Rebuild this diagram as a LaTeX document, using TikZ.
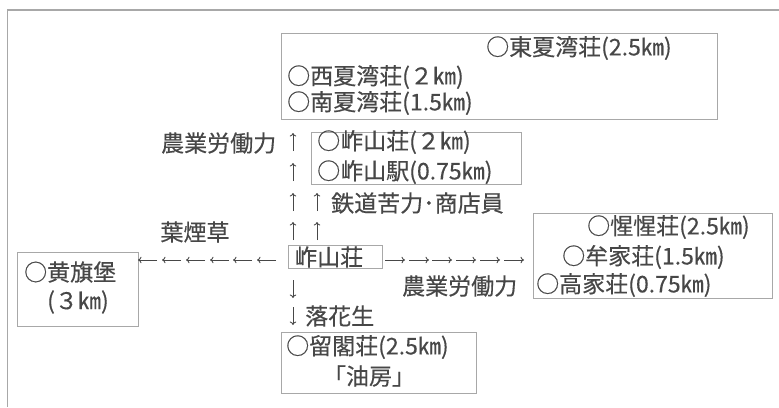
\documentclass[tikz,border=0pt]{standalone}
\usepackage{fontspec}
\setmainfont{Noto Sans CJK JP}[FakeBold=0.4]
\usepackage{tikz}
\usepackage{xcolor}
\usetikzlibrary{arrows.meta, positioning}
\definecolor{ink}{HTML}{474747}
\definecolor{rule}{HTML}{A8A8A8}

\begin{document}
\begin{tikzpicture}[x=1pt, y=-1pt,
    txt/.style={inner sep=0pt, text=ink, font=\fontsize{23}{26}\selectfont},
    box/.style={draw=rule, line width=0.8pt, anchor=north west, inner sep=0pt},
    flow/.style={draw=ink, line width=0.9pt, -{To[length=3.5pt, width=6.5pt]}}]
     \useasboundingbox (0,0) rectangle (779,407);
     % outer frame, cut on the right and below
     \draw[rule, line width=1.6pt] (7,10) -- (779,10);
     \draw[rule, line width=0.9pt] (7,10) -- (7,407);
     %
     % boxes
     \node[box, minimum width=436pt, minimum height=86pt] (xiawan) at (281,33) {};
     \node[box, minimum width=210pt, minimum height=52pt] (zsbox) at (311,132) {};
     \node[box, minimum width=94pt, minimum height=23pt] (zuoshan) at (288,245) {};
     \node[box, minimum width=121pt, minimum height=74pt] (huangqi) at (17,252) {};
     \node[box, minimum width=239pt, minimum height=85pt] (eastbox) at (533,213) {};
     \node[box, minimum width=195pt, minimum height=61pt] (liuge) at (281,332) {};
     %
     % places
     \node[txt, anchor=west] (dxw) at (486,48) {○東夏湾荘(2.5㎞)};
     \node[txt, anchor=west] (xxw) at (287,77) {○西夏湾荘(２㎞)};
     \node[txt, anchor=west] (nxw) at (287,103) {○南夏湾荘(1.5㎞)};
     \node[txt, anchor=west] (zsz) at (317,142) {○岞山荘(２㎞)};
     \node[txt, anchor=west] (zsy) at (317,172) {○岞山駅(0.75㎞)};
     \node[txt, anchor=west] (zsc) at (294,257) {岞山荘};
     \node[txt, anchor=west] (hqb) at (24,272) {○黄旗堡};
     \node[txt, anchor=west] (hqkm) at (47,302) {(３㎞)};
     \node[txt, anchor=west] (xxz) at (587,227) {○惺惺荘(2.5㎞)};
     \node[txt, anchor=west] (mjz) at (562,257) {○牟家荘(1.5㎞)};
     \node[txt, anchor=west] (gjz) at (536,285) {○高家荘(0.75㎞)};
     \node[txt, anchor=west] (lgz) at (286,347) {○留閣荘(2.5㎞)};
     \node[txt] (youfang) at (369,376) {「油房」};
     %
     % goods and labour
     \node[txt, anchor=west] (labn) at (161,143) {農業労働力};
     \node[txt, anchor=west] (labr) at (331,203) {鉄道苦力･商店員};
     \node[txt] (tobacco) at (195,232) {葉煙草};
     \node[txt, anchor=west] (labe) at (402,286) {農業労働力};
     \node[txt, anchor=west] (peanut) at (305,316) {落花生};
     %
     % arrows to the west
     \foreach \h in {138,162,186,210,233,257}
       \draw[flow] (\h+19,260) -- (\h,260);
     % arrows to the east
     \foreach \t in {385,409,432,456,480,504}
       \draw[flow] (\t,260) -- (\t+20,260);
     % arrows to the north
     \foreach \c in {142,172,202,231}
       \draw[flow] (293,\c+9) -- (293,\c-9);
     \foreach \c in {202,231}
       \draw[flow] (317,\c+9) -- (317,\c-9);
     % arrows to the south
     \foreach \c in {289,316}
       \draw[flow] (293,\c-9) -- (293,\c+9);
   \end{tikzpicture}
\end{document}
